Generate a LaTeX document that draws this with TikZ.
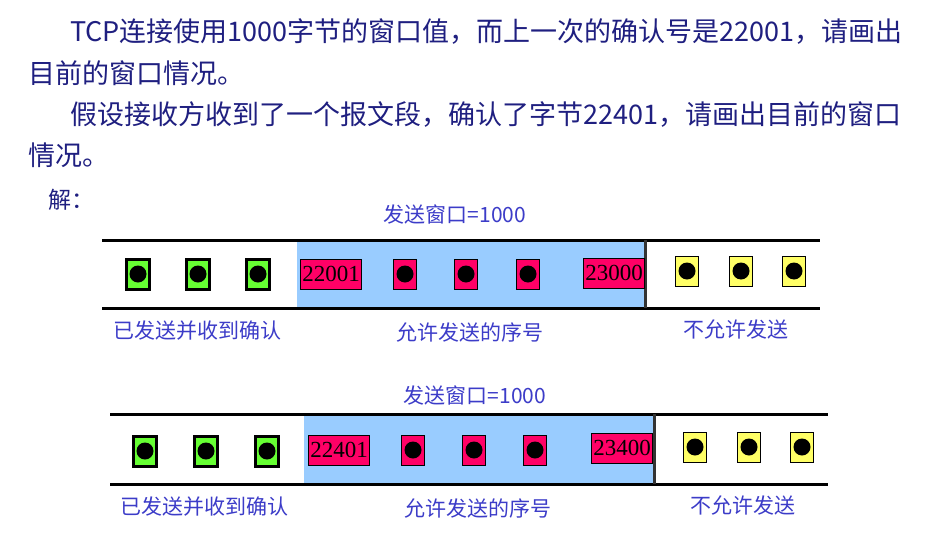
\documentclass[tikz,border=0pt]{standalone}
\usepackage{fontspec}
\setmainfont{Liberation Serif}
\newfontfamily\cjk{Noto Sans CJK SC}
\usetikzlibrary{positioning}
\definecolor{Navy}{HTML}{1F1F80}
\definecolor{LabelBlue}{HTML}{3C3CC8}
\definecolor{WinBlue}{HTML}{99CCFF}
\definecolor{AckGreen}{HTML}{66FF33}
\definecolor{SegPink}{HTML}{FF0066}
\definecolor{NoYellow}{HTML}{FFFF66}
\definecolor{EdgeGray}{HTML}{333333}
\tikzset{
  seg/.style={
    rectangle, draw=black, inner sep=0pt,
    path picture={\fill[black] (path picture bounding box.center) circle (8.5);}
  },
  acked/.style={seg, fill=AckGreen, line width=3pt, minimum width=23, minimum height=30},
  sendable/.style={seg, fill=SegPink, line width=0.8pt, minimum width=23, minimum height=30},
  blocked/.style={seg, fill=NoYellow, line width=0.8pt, minimum width=23, minimum height=30},
  numbox/.style={
    rectangle, draw=black, fill=SegPink, line width=0.8pt, inner sep=0pt,
    minimum width=61, minimum height=30, font=\fontsize{23}{23}\selectfont
  },
  window/.style={rectangle, fill=WinBlue, inner sep=0pt},
  rail/.style={line width=3pt, black},
  edge/.style={line width=3pt, EdgeGray},
  question/.style={anchor=west, inner sep=0pt, text=Navy, font=\cjk\fontsize{27}{32}\selectfont},
  tag/.style={inner sep=0pt, text=LabelBlue, font=\cjk\fontsize{21}{24}\selectfont},
}

\begin{document}
\begin{tikzpicture}[x=1pt, y=-1pt]
\useasboundingbox (0,0) rectangle (943,541);

% Question text
\node[question] at (70,32) (q1) {TCP连接使用1000字节的窗口值，而上一次的确认号是22001，请画出};
\node[question] at (28,73) (q2) {目前的窗口情况。};
\node[question] at (70,115) (q3) {假设接收方收到了一个报文段，确认了字节22401，请画出目前的窗口};
\node[question] at (28,155) (q4) {情况。};
\node[question, font=\cjk\fontsize{23}{28}\selectfont] at (48,200) (ans) {解：};

% First window: ack 22001
\node[window, minimum width=348, minimum height=68] at (471,274) (wa) {};
\draw[rail] (102,240) -- (820,240);
\draw[rail] (102,308) -- (820,308);
\draw[edge] (wa.north east) -- (wa.south east);

\node[acked] at (138,274) (ga1) {};
\node[acked] at (198,274) (ga2) {};
\node[acked] at (258,274) (ga3) {};

\node[numbox] at (331,274) (na1) {22001};
\node[sendable] at (405,274) (pa1) {};
\node[sendable] at (466,274) (pa2) {};
\node[sendable] at (528,274) (pa3) {};
\node[numbox] at (614,273) (na2) {23000};

\node[blocked] at (687,271) (ya1) {};
\node[blocked] at (741,271) (ya2) {};
\node[blocked] at (794,271) (ya3) {};

\node[tag] at (455,214) (la1) {发送窗口=1000};
\node[tag] at (197,331) (la2) {已发送并收到确认};
\node[tag] at (470,332) (la3) {允许发送的序号};
\node[tag] at (736,329) (la4) {不允许发送};

% Second window: ack 22401
\node[window, minimum width=350, minimum height=70] at (479,449) (wb) {};
\draw[rail] (110,414) -- (828,414);
\draw[rail] (110,484) -- (828,484);
\draw[edge] (wb.north east) -- (wb.south east);

\node[acked] at (145,451) (gb1) {};
\node[acked] at (206,451) (gb2) {};
\node[acked] at (267,451) (gb3) {};

\node[numbox] at (339,450) (nb1) {22401};
\node[sendable] at (413,450) (pb1) {};
\node[sendable] at (474,450) (pb2) {};
\node[sendable] at (535,450) (pb3) {};
\node[numbox] at (622,448) (nb2) {23400};

\node[blocked] at (695,447) (yb1) {};
\node[blocked] at (749,447) (yb2) {};
\node[blocked] at (802,447) (yb3) {};

\node[tag] at (475,395) (lb1) {发送窗口=1000};
\node[tag] at (204,507) (lb2) {已发送并收到确认};
\node[tag] at (478,508) (lb3) {允许发送的序号};
\node[tag] at (743,505) (lb4) {不允许发送};

\end{tikzpicture}
\end{document}
